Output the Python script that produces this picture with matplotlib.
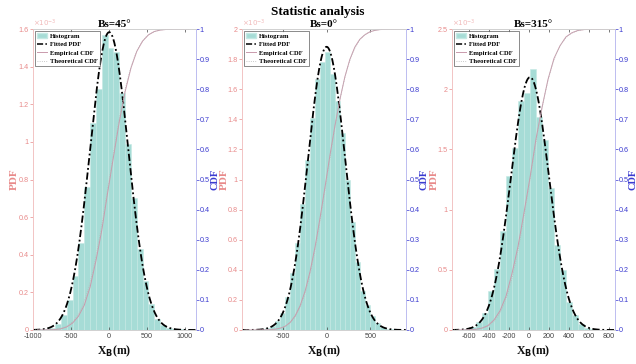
import math
import numpy as np
import matplotlib
matplotlib.use("Agg")
import matplotlib.pyplot as plt
from matplotlib.lines import Line2D
from matplotlib.patches import Patch

# ---- data -------------------------------------------------------------
titles = ["Bs=45°", "Bs=0°", "Bs=315°"]

# histogram (normalised, units of 1e-3 per metre)
bin_start = [-940, -931, -710]
bin_width = [77, 57, 60]
pdf_45 = [0.003, 0.005, 0.012, 0.03, 0.08, 0.16, 0.285, 0.46, 0.76, 1.10,
          1.28, 1.57, 1.50, 1.48, 1.26, 0.99, 0.70, 0.43, 0.26, 0.14,
          0.06, 0.025, 0.01, 0.005, 0.003, 0.002]
pdf_0 = [0.0002, 0.0007, 0.002, 0.005, 0.012, 0.027, 0.058, 0.11, 0.22, 0.38,
         0.58, 0.84, 1.13, 1.41, 1.67, 1.78, 1.85, 1.70, 1.52, 1.31,
         1.00, 0.715, 0.45, 0.26, 0.168, 0.09, 0.045, 0.021, 0.009, 0.004,
         0.0014, 0.0005]
pdf_315 = [0.0035, 0.010, 0.027, 0.066, 0.14, 0.32, 0.51, 0.82, 1.28, 1.51,
           1.90, 1.97, 2.17, 1.77, 1.58, 1.18, 0.71, 0.50, 0.235, 0.125,
           0.05, 0.02, 0.008, 0.003, 0.001, 0.0005]
hist_values = [pdf_45, pdf_0, pdf_315]

# fitted normal parameters (m)
fit_mu = [5, 0, 10]
fit_sigma = [252, 212, 190]

x_limits = [(-1000, 1150), (-970, 910), (-770, 860)]
x_ticks = [[-1000, -500, 0, 500, 1000], [-500, 0, 500],
           [-600, -400, -200, 0, 200, 400, 600, 800]]
pdf_top = [1.6, 2.0, 2.5]
pdf_ticks = [[0, 0.2, 0.4, 0.6, 0.8, 1, 1.2, 1.4, 1.6],
             [0, 0.2, 0.4, 0.6, 0.8, 1, 1.2, 1.4, 1.6, 1.8, 2],
             [0, 0.5, 1, 1.5, 2, 2.5]]
cdf_ticks = [0, 0.1, 0.2, 0.3, 0.4, 0.5, 0.6, 0.7, 0.8, 0.9, 1]

# ---- style ------------------------------------------------------------
bar_face = "#a6dcd6"
bar_edge = "#c4e9e4"
pdf_col = "#e88a8a"
cdf_col = "#3a3ad0"
emp_col = "#c99aac"
theo_col = "#b8b8b8"
serif = ["Liberation Serif", "DejaVu Serif"]
sans = ["Liberation Sans", "DejaVu Sans"]
dashdot = (0, (4, 1.5, 1, 1.5))

fig = plt.figure(figsize=(6.36, 3.64), dpi=100)
lefts_px = [33, 242, 452]
widths_px = [163, 164, 163]
pdf_label_px = [14, 224, 434]
cdf_label_px = [215, 424, 632.5]
bottom = 1 - 330 / 364
height = (330 - 29) / 364

for i in range(3):
    ax = fig.add_axes([lefts_px[i] / 636, bottom, widths_px[i] / 636, height])
    vals = np.array(hist_values[i])          # in units of 1e-3
    edges = bin_start[i] + bin_width[i] * np.arange(len(vals) + 1)
    ax.bar(edges[:-1], vals, width=bin_width[i], align="edge",
           color=bar_face, edgecolor=bar_edge, linewidth=0.4, zorder=1)

    xs = np.linspace(x_limits[i][0], x_limits[i][1], 600)
    mu, sg = fit_mu[i], fit_sigma[i]
    fit = 1e3 * np.exp(-0.5 * ((xs - mu) / sg) ** 2) / (sg * math.sqrt(2 * math.pi))
    ax.plot(xs, fit, color="black", linestyle=dashdot, linewidth=1.3, zorder=3)

    ax.set_xlim(*x_limits[i])
    ax.set_ylim(0, pdf_top[i])
    ax.set_xticks(x_ticks[i])
    ax.set_xticklabels([str(t) for t in x_ticks[i]])
    ax.set_yticks(pdf_ticks[i])
    ax.set_yticklabels([f"{t:g}" for t in pdf_ticks[i]])
    ax.tick_params(axis="y", colors=pdf_col, labelsize=5.2, length=2,
                   width=0.5, direction="out", pad=1.2)
    ax.tick_params(axis="x", colors="#444444", labelsize=5.2, length=2,
                   width=0.5, direction="in", pad=2.5, top=True)
    for lbl in ax.get_xticklabels() + ax.get_yticklabels():
        lbl.set_family(sans)
    ax.text(0.0, 1.0, r"$\times10^{-3}$", transform=ax.transAxes,
            ha="left", va="bottom", fontsize=5, color=pdf_col, alpha=0.6)
    ax.spines["left"].set_color("#f2c4c4")
    ax.spines["right"].set_color("#bdbdf0")
    ax.spines["top"].set_color("#d0d0d0")
    ax.spines["bottom"].set_color("#d0d0d0")
    for s in ax.spines.values():
        s.set_linewidth(0.6)
    ax.set_ylabel("PDF", color=pdf_col, fontsize=8, fontweight="bold",
                  family=serif, va="center")
    ax.yaxis.set_label_coords((pdf_label_px[i] - lefts_px[i]) / widths_px[i], 0.5)
    ax.set_xlabel(r"X$_\mathbf{B}$(m)", fontsize=8.5, fontweight="bold",
                  family=serif, labelpad=2, color="#111111")
    ax.set_title(titles[i], fontsize=8, fontweight="bold", family=serif,
                 pad=1.5)

    # cumulative distributions on the right-hand axis
    ax2 = ax.twinx()
    cum = np.concatenate([[0.0], np.cumsum(vals * bin_width[i])])
    cum = cum / cum[-1]
    theo = np.array([0.5 * (1 + math.erf((x - mu) / (sg * math.sqrt(2))))
                     for x in xs])
    ax2.plot(edges, cum, color=emp_col, linewidth=0.7, zorder=2)
    ax2.plot(xs, theo, color=theo_col, linewidth=0.6, linestyle=":",
             zorder=2)
    ax2.set_ylim(0, 1)
    ax2.set_yticks(cdf_ticks)
    ax2.set_yticklabels([f"{t:g}" for t in cdf_ticks])
    ax2.tick_params(axis="y", colors=cdf_col, labelsize=5.2, length=1.8,
                    width=0.5, direction="out", pad=1.0)
    for lbl in ax2.get_yticklabels():
        lbl.set_family(sans)
    ax2.spines["right"].set_color("#bdbdf0")
    ax2.spines["left"].set_color("#f2c4c4")
    ax2.spines["top"].set_color("#d0d0d0")
    ax2.spines["bottom"].set_color("#d0d0d0")
    for s in ax2.spines.values():
        s.set_linewidth(0.6)
    ax2.set_ylabel("CDF", color=cdf_col, fontsize=7.5, fontweight="bold",
                   family=serif, va="center")
    ax2.yaxis.set_label_coords((cdf_label_px[i] - lefts_px[i]) / widths_px[i], 0.5)

    handles = [Patch(facecolor=bar_face, edgecolor=bar_edge),
               Line2D([], [], color="black", linestyle=dashdot, linewidth=1.1),
               Line2D([], [], color=emp_col, linewidth=0.7),
               Line2D([], [], color=theo_col, linewidth=0.6, linestyle=":")]
    labels = ["Histogram", "Fitted PDF", "Empirical CDF", "Theoretical CDF"]
    leg = ax2.legend(handles, labels, loc="upper left",
                     prop={"family": serif, "weight": "bold", "size": 4.8},
                     frameon=True, fancybox=False, borderpad=0.35,
                     labelspacing=0.4, handlelength=1.5, handletextpad=0.4,
                     borderaxespad=0.3)
    leg.get_frame().set_edgecolor("#333333")
    leg.get_frame().set_linewidth(0.5)

fig.text(0.5, 1 - 12 / 364, "Statistic analysis", ha="center", va="center",
         fontsize=9.5, fontweight="bold", family=serif)
fig.savefig("out.png", dpi=100)
